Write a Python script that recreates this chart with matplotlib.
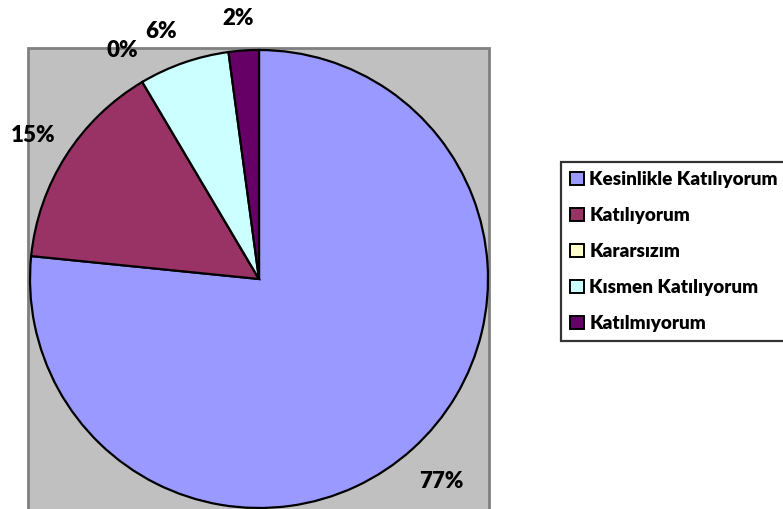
import matplotlib
matplotlib.use("Agg")
import matplotlib.pyplot as plt
from matplotlib.patches import Rectangle, Patch

categories = ["Kesinlikle Katılıyorum", "Katılıyorum", "Kararsızım",
              "Kısmen Katılıyorum", "Katılmıyorum"]
counts = [36, 7, 0, 3, 1]
colors = ["#9999FF", "#993366", "#FFFFCC", "#CCFFFF", "#660066"]

total = sum(counts)
pct_labels = [f"{round(100 * c / total)}%" for c in counts]
# label positions (pixels from top-left)
label_pos = [(441, 482), (33, 135), (122, 50), (161, 31), (238, 18)]

W, H = 783, 509
fig = plt.figure(figsize=(W / 100, H / 100), dpi=100)
ax = fig.add_axes([0, 0, 1, 1])

# plot area
ax.add_patch(Rectangle((28, -5), 461, H - 48 + 5, facecolor="#C0C0C0",
                       edgecolor="#808080", linewidth=2, zorder=0))

cx, cy, r = 259, H - 279, 229
ax.pie(counts, colors=colors, startangle=90, counterclock=False,
       center=(cx, cy), radius=r,
       wedgeprops=dict(edgecolor="black", linewidth=1.6))
ax.set_xlim(0, W)
ax.set_ylim(0, H)
ax.set_aspect("equal")
ax.axis("off")

for txt, (x, y) in zip(pct_labels, label_pos):
    ax.text(x, H - y, txt, ha="center", va="center", fontsize=16,
            fontweight="heavy", family="Lato", color="black")

handles = [Patch(facecolor=c, edgecolor="black", linewidth=1.4) for c in colors]
leg = fig.legend(handles, categories, loc="upper left",
                 bbox_to_anchor=(561 / W, 1 - 162 / H),
                 frameon=True, fancybox=False, edgecolor="black",
                 prop=dict(family="Lato", weight="heavy", size=13.6),
                 handlelength=0.7, handleheight=0.7, handletextpad=0.3,
                 labelspacing=1.0, borderpad=0.5, borderaxespad=0)
leg.get_frame().set_linewidth(1.6)

fig.savefig("out.png", dpi=100)
